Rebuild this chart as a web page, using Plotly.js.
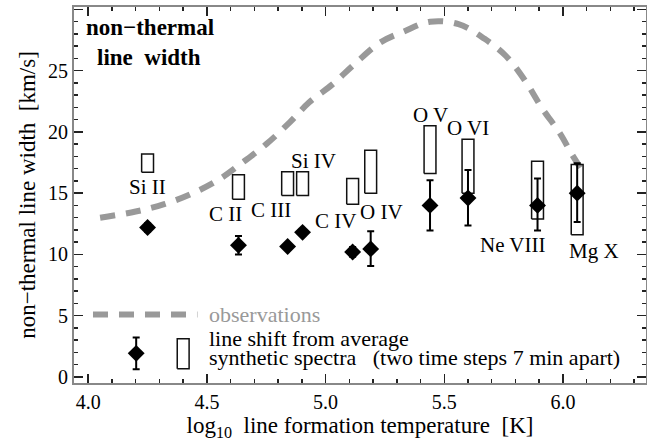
<!DOCTYPE html>
<html><head><meta charset="utf-8">
<script src="https://cdn.plot.ly/plotly-3.0.1.min.js"></script>
<style>body{margin:0;background:#fff}</style>
</head><body>
<div id="chart" style="width:647px;height:445px"></div>
<script>
// ---- data ----
const ions      = ['Si II','C II','C III','Si IV','C IV','O IV','O V','O VI','Ne VIII','Mg X'];
const logT      = [4.25, 4.633, 4.84, 4.903, 5.114, 5.19, 5.44, 5.60, 5.893, 6.06];
const shiftVal  = [12.2, 10.75, 10.65, 11.8, 10.2, 10.45, 14.0, 14.6, 14.0, 15.0];
const errPlus   = [0.35, 0.75, 0, 0, 0.4, 1.45, 2.05, 2.3, 2.2, 2.45];
const errMinus  = [0.35, 0.75, 0, 0, 0.4, 1.4, 2.05, 2.25, 2.05, 2.35];
const synthLo   = [16.7, 14.5, 14.8, 14.8, 14.1, 15.0, 16.6, 15.0, 12.9, 11.6];
const synthHi   = [18.2, 16.5, 16.75, 16.75, 16.2, 18.5, 20.5, 19.4, 17.6, 17.35];
const labelX    = [4.25, 4.577, 4.768, 4.95, 5.042, 5.237, 5.44, 5.598, 5.79, 6.13];
const labelY    = [15.5, 13.3, 13.6, 17.6, 12.7, 13.5, 21.4, 20.3, 10.8, 10.3];

const obsT      = [4.05, 4.2, 4.32, 4.43, 4.55, 4.65, 4.75, 4.85, 4.93, 5.03, 5.12, 5.23, 5.33, 5.44, 5.56, 5.67, 5.76, 5.84, 5.91, 5.99, 6.04, 6.1];
const obsWidth  = [13.0, 13.5, 14.1, 14.9, 16.1, 17.5, 19.0, 20.8, 22.4, 23.9, 25.5, 27.3, 28.2, 29.0, 28.8, 27.6, 26.2, 24.2, 22.0, 19.8, 18.1, 16.3];

// legend sample values
const legObsX   = [4.02, 4.46];
const legObsY   = [5.1, 5.1];
const legShiftX = [4.202];
const legShiftY = [1.92];
const legErr    = [1.3];
const legBoxX   = [4.40];
const legBoxLo  = [0.67];
const legBoxHi  = [3.12];

const boxHalf = 0.025;
const FONT = 'Liberation Serif, Times New Roman, serif';
const GRAY = '#999999';

function boxPath(xs, lo, hi) {
  const bx = [], by = [];
  xs.forEach((x, i) => {
    bx.push(x - boxHalf, x + boxHalf, x + boxHalf, x - boxHalf, x - boxHalf, null);
    by.push(lo[i], lo[i], hi[i], hi[i], lo[i], null);
  });
  return {x: bx, y: by};
}
const b = boxPath(logT, synthLo, synthHi);
const lb = boxPath(legBoxX, legBoxLo, legBoxHi);

const traces = [
  {x: obsT, y: obsWidth, mode: 'lines', line: {color: GRAY, width: 6, dash: '15px,11px', shape: 'spline'}, hoverinfo: 'skip'},
  {x: legObsX, y: legObsY, mode: 'lines', line: {color: GRAY, width: 6, dash: '15px,11px'}},
  {x: b.x, y: b.y, mode: 'lines', line: {color: '#111', width: 1.5}, connectgaps: false},
  {x: lb.x, y: lb.y, mode: 'lines', line: {color: '#111', width: 1.5}},
  {x: logT, y: shiftVal, mode: 'markers', marker: {symbol: 'diamond', size: 13, color: '#000'},
   error_y: {type: 'data', symmetric: false, array: errPlus, arrayminus: errMinus, color: '#000', thickness: 2, width: 3.5}},
  {x: legShiftX, y: legShiftY, mode: 'markers', marker: {symbol: 'diamond', size: 13, color: '#000'},
   error_y: {type: 'data', array: legErr, color: '#000', thickness: 2, width: 3.5}}
];

const annotations = ions.map((t, i) => ({
  x: labelX[i], y: labelY[i], text: t, showarrow: false, xanchor: 'center', yanchor: 'middle',
  font: {family: FONT, size: 21, color: '#000'}
}));
annotations.push(
  {x: 3.983, y: 28.5, text: '<b>non\u2212thermal</b>', showarrow: false, xanchor: 'left', yanchor: 'middle', font: {family: FONT, size: 23, color: '#000'}},
  {x: 4.03, y: 26.1, text: '<b>line\u00a0 width</b>', showarrow: false, xanchor: 'left', yanchor: 'middle', font: {family: FONT, size: 23, color: '#000'}},
  {x: 4.50, y: 5.1, text: 'observations', showarrow: false, xanchor: 'left', yanchor: 'middle', font: {family: FONT, size: 22, color: GRAY}},
  {x: 4.50, y: 3.12, text: 'line shift from average', showarrow: false, xanchor: 'left', yanchor: 'middle', font: {family: FONT, size: 22, color: '#000'}},
  {x: 4.50, y: 1.62, text: 'synthetic spectra\u00a0\u00a0 (two time steps 7 min apart)', showarrow: false, xanchor: 'left', yanchor: 'middle', font: {family: FONT, size: 22, color: '#000'}}
);

const axBase = {
  showgrid: false, zeroline: false, showline: true, linecolor: '#888', linewidth: 2,
  mirror: 'ticks', ticks: 'inside', tickcolor: '#222', tickwidth: 1.5, ticklen: 9,
  tickfont: {family: FONT, size: 20, color: '#000'}
};

const layout = {
  width: 647, height: 445,
  margin: {l: 74, r: 1, t: 7, b: 62},
  paper_bgcolor: '#fff', plot_bgcolor: '#fff',
  showlegend: false,
  xaxis: Object.assign({}, axBase, {
    range: [3.94, 6.35], tick0: 4.0, dtick: 0.5, tickformat: '.1f',
    minor: {dtick: 0.1, ticks: 'inside', ticklen: 4, tickcolor: '#222', tickwidth: 1.5},
    title: {text: 'log<sub>10</sub>\u00a0 line formation temperature\u00a0 [K]', font: {family: FONT, size: 23, color: '#000'}, standoff: 4}
  }),
  yaxis: Object.assign({}, axBase, {
    range: [-0.5, 30.2], tick0: 0, dtick: 5,
    minor: {dtick: 1, ticks: 'inside', ticklen: 4, tickcolor: '#222', tickwidth: 1.5},
    title: {text: 'non\u2212thermal line width\u00a0 [km/s]', font: {family: FONT, size: 23, color: '#000'}, standoff: 6}
  }),
  annotations: annotations
};

Plotly.newPlot('chart', traces, layout, {displayModeBar: false, staticPlot: true});
</script>
</body></html>
